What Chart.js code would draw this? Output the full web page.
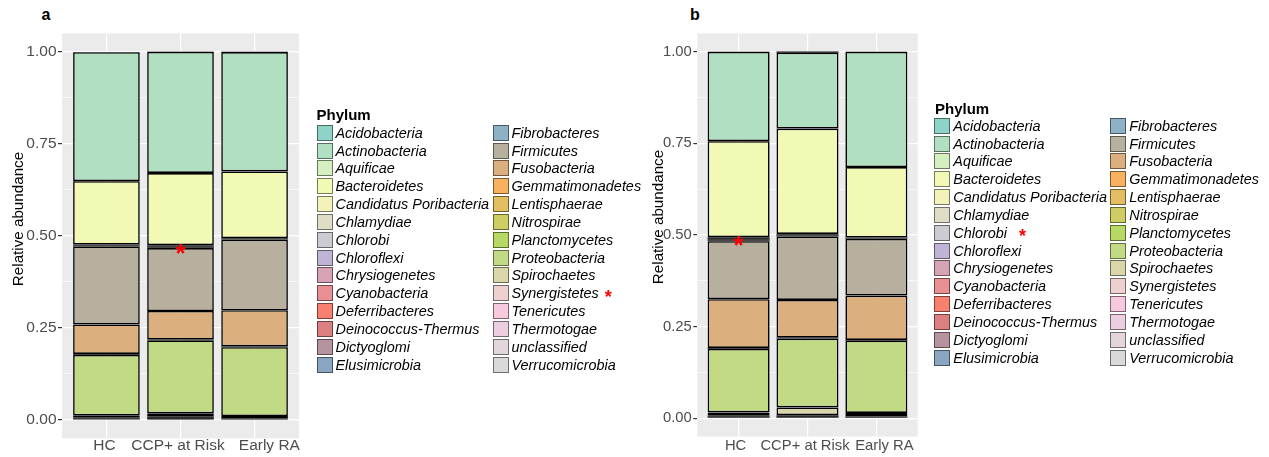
<!DOCTYPE html>
<html>
<head>
<meta charset="utf-8">
<script src="https://cdn.jsdelivr.net/npm/chart.js@4.4.1/dist/chart.umd.min.js"></script>
<style>
  body { margin: 0; background: #fff; width: 1269px; height: 457px; position: relative; overflow: hidden;
         font-family: "Liberation Sans", Arial, sans-serif; color: #000; }
  canvas { position: absolute; top: 0; }
  #chartA { left: 0; }
  #chartB { left: 640px; }
  .tag { position: absolute; font-weight: bold; font-size: 16px; line-height: 16px; }
  .legend-title { position: absolute; font-weight: bold; font-size: 15px; line-height: 18px; }
  .legend { position: absolute; display: grid; grid-auto-flow: column;
            grid-template-columns: 176px 176px; grid-template-rows: repeat(14, 17.85px); }
  .item { display: flex; align-items: center; font-style: italic; font-size: 14.4px; white-space: nowrap; }
  .key { width: 16px; height: 16px; box-sizing: border-box; border: 1px solid rgba(0,0,0,0.5);
         margin-right: 3px; flex: none; }
  .star { color: #ff0000; font-style: normal; font-weight: bold; font-size: 18px; position: relative; top: 4px; }
</style>
</head>
<body>
<div class="tag" style="left:41.5px; top:7px;">a</div>
<div class="tag" style="left:690px; top:7px;">b</div>
<canvas id="chartA" width="640" height="457"></canvas>
<canvas id="chartB" width="629" height="457"></canvas>
<div class="legend-title" style="left:316.5px; top:106px;">Phylum</div>
<div class="legend" id="legendA" style="left:316.5px; top:123.8px;"></div>
<div class="legend-title" style="left:935px; top:99.5px;">Phylum</div>
<div class="legend" id="legendB" style="left:934.3px; top:116.8px;"></div>

<script>
const groups = ['HC', 'CCP+ at Risk', 'Early RA'];

const phyla = [
  'Acidobacteria', 'Actinobacteria', 'Aquificae', 'Bacteroidetes', 'Candidatus Poribacteria',
  'Chlamydiae', 'Chlorobi', 'Chloroflexi', 'Chrysiogenetes', 'Cyanobacteria',
  'Deferribacteres', 'Deinococcus-Thermus', 'Dictyoglomi', 'Elusimicrobia',
  'Fibrobacteres', 'Firmicutes', 'Fusobacteria', 'Gemmatimonadetes', 'Lentisphaerae',
  'Nitrospirae', 'Planctomycetes', 'Proteobacteria', 'Spirochaetes', 'Synergistetes',
  'Tenericutes', 'Thermotogae', 'unclassified', 'Verrucomicrobia'
];

const phylumColors = [
  '#8ed3c8', '#b1dfc2', '#d4efc0', '#f2f9b4', '#f3f2bb',
  '#e0ddc6', '#cccad3', '#c0b4d6', '#d6a3b4', '#e78f93',
  '#f7806f', '#dc7f80', '#b6949f', '#8aa5c2',
  '#8fb1c6', '#b7b09f', '#dcb07e', '#f8b15f', '#e2bd62',
  '#cdcd63', '#b6d963', '#c3da85', '#d9d6aa', '#eed0d0',
  '#f7c9df', '#edcde0', '#e2d5dc', '#d9d9d9'
];

const yTicks = [0, 0.25, 0.5, 0.75, 1];

// panel a, relative abundance per group (same order as phyla)
const hcA = [0.001, 0.350, 0.0003, 0.172, 0.0005, 0.0005, 0.0008, 0.0005, 0.0002, 0.0008,
  0.0003, 0.0004, 0.0002, 0.0003, 0.0005, 0.212, 0.080, 0.0003, 0.0008, 0.0004,
  0.0012, 0.165, 0.006, 0.001, 0.0015, 0.0003, 0.0012, 0.0018];
const ccpA = [0.0008, 0.329, 0.0003, 0.196, 0.001, 0.001, 0.0012, 0.0008, 0.0004, 0.001,
  0.0004, 0.0005, 0.0003, 0.0004, 0.0007, 0.171, 0.077, 0.0004, 0.001, 0.0005,
  0.0011, 0.198, 0.009, 0.0015, 0.002, 0.0005, 0.0025, 0.0025];
const earlyA = [0.0006, 0.324, 0.0002, 0.181, 0.0005, 0.0004, 0.0006, 0.0004, 0.0002, 0.0006,
  0.0002, 0.0003, 0.0002, 0.0003, 0.0005, 0.192, 0.098, 0.0003, 0.0007, 0.0003,
  0.0009, 0.187, 0.006, 0.0007, 0.0012, 0.0003, 0.0011, 0.0015];

// panel b
const hcB = [0.0008, 0.243, 0.0003, 0.262, 0.0015, 0.0012, 0.0025, 0.001, 0.0005, 0.0015,
  0.0005, 0.0006, 0.0004, 0.0005, 0.0008, 0.158, 0.133, 0.0004, 0.0009, 0.0004,
  0.0013, 0.173, 0.009, 0.001, 0.0015, 0.0004, 0.0018, 0.0023];
const ccpB = [0.003, 0.207, 0.0004, 0.287, 0.001, 0.001, 0.0011, 0.0007, 0.0003, 0.001,
  0.0004, 0.0004, 0.0003, 0.0003, 0.0005, 0.173, 0.103, 0.0003, 0.0008, 0.0003,
  0.0011, 0.188, 0.021, 0.001, 0.0015, 0.0005, 0.003, 0.0025];
const earlyB = [0.0006, 0.314, 0.0003, 0.192, 0.0004, 0.0003, 0.0005, 0.0003, 0.0002, 0.0005,
  0.0002, 0.0003, 0.0002, 0.0002, 0.0004, 0.155, 0.121, 0.0003, 0.0006, 0.0002,
  0.0009, 0.197, 0.009, 0.0006, 0.001, 0.0003, 0.0017, 0.0021];

// significance marks: group number (1-based) and height on the bar
const starA = { group: 2, value: 0.471 };
const starB = { group: 1, value: 0.489 };


Chart.defaults.font.family = '"Liberation Sans", Arial, sans-serif';
Chart.defaults.color = '#4d4d4d';

const yGrid = [];
yTicks.forEach((v, i) => {
  yGrid.push(v);
  if (i < yTicks.length - 1) yGrid.push((v + yTicks[i + 1]) / 2);
});

const isMajor = (ctx) => ctx.tick && yTicks.includes(ctx.tick.value);

// slices thinner than the outline end up all black, as in ggplot
const thin = (ctx) => ctx.raw && ctx.raw.y < 0.004;

// grey panel background
const panelBg = {
  id: 'panelBg',
  beforeDraw(chart) {
    const { ctx, chartArea: a } = chart;
    ctx.save();
    ctx.fillStyle = '#ebebeb';
    ctx.fillRect(a.left, a.top, a.right - a.left, a.bottom - a.top);
    ctx.restore();
  }
};

// y axis title, placed like the figure
const yTitle = {
  id: 'yTitle',
  afterDraw(chart, args, opts) {
    const ctx = chart.ctx;
    ctx.save();
    ctx.translate(opts.x, opts.y);
    ctx.rotate(-Math.PI / 2);
    ctx.font = opts.size + 'px "Liberation Sans", Arial, sans-serif';
    ctx.fillStyle = '#000';
    ctx.textAlign = 'center';
    ctx.textBaseline = 'alphabetic';
    ctx.fillText('Relative abundance', 0, 0);
    ctx.restore();
  }
};

// red asterisk on a bar
const starMark = {
  id: 'starMark',
  afterDatasetsDraw(chart, args, opts) {
    const ctx = chart.ctx;
    const x = chart.scales.x.getPixelForValue(opts.group);
    const y = chart.scales.y.getPixelForValue(opts.value);
    ctx.save();
    ctx.font = 'bold 26px "Liberation Sans", Arial, sans-serif';
    ctx.fillStyle = '#ff0000';
    ctx.textAlign = 'center';
    ctx.textBaseline = 'alphabetic';
    ctx.fillText('*', x, y + 0.575 * 26);
    ctx.restore();
  }
};


function makeChart(id, series, star, p) {

  const datasets = phyla.map((name, i) => ({
    label: name,
    data: series.map((s, g) => ({ x: g + 1, y: s[i] })),
    backgroundColor: (ctx) => thin(ctx) ? '#000' : phylumColors[i],
    borderColor: '#000',
    borderWidth: (ctx) => thin(ctx) ? 0 : 1.6,
    borderSkipped: false,
    inflateAmount: 0,
    barPercentage: 0.9,
    categoryPercentage: 1
  })).reverse();   // first level sits on top, like ggplot

  return new Chart(document.getElementById(id), {
    type: 'bar',
    data: { datasets },
    plugins: [panelBg, yTitle, starMark],
    options: {
      responsive: false,
      animation: false,
      events: [],
      layout: { padding: { top: 33.4, right: p.right, bottom: 0, left: 0 } },
      plugins: {
        legend: { display: false },
        tooltip: { enabled: false },
        yTitle: { x: 23.3, y: p.titleY, size: 15.2 },
        starMark: star
      },
      scales: {
        x: {
          type: 'linear',
          stacked: true,
          min: 0.4,
          max: 3.6,
          offset: false,
          afterBuildTicks: (s) => { s.ticks = groups.map((g, i) => ({ value: i + 1 })); },
          afterFit: (s) => { s.height = 0; },
          grid: { offset: false, color: '#ffffff', lineWidth: 1.2, drawTicks: false },
          border: { display: false },
          ticks: { display: false }
        },
        // group names, set a little off the bar centres as in the figure
        xLab: {
          type: 'linear',
          position: 'bottom',
          min: 0.4,
          max: 3.6,
          offset: false,
          afterBuildTicks: (s) => { s.ticks = groups.map((g, i) => ({ value: i + 1 + p.labelShift[i] })); },
          afterFit: (s) => { s.height = 457 - 33.4 - p.plotH; },
          grid: { display: false, drawTicks: false },
          border: { display: false },
          ticks: {
            autoSkip: false,
            maxRotation: 0,
            padding: p.xPad,
            font: { size: p.font, lineHeight: 1 },
            callback: (v, i) => groups[i]
          }
        },
        y: {
          stacked: true,
          min: -0.05,
          max: 1.05,
          afterBuildTicks: (s) => { s.ticks = yGrid.map(v => ({ value: v })); },
          afterFit: (s) => { s.width = p.yW; },
          grid: {
            color: '#ffffff',
            lineWidth: (ctx) => isMajor(ctx) ? 1.2 : 0.6,
            tickColor: (ctx) => isMajor(ctx) ? '#333' : 'rgba(0,0,0,0)',
            tickLength: 4
          },
          border: { display: false },
          ticks: {
            autoSkip: false,
            padding: 1.5,
            font: { size: p.font },
            callback: (v) => yTicks.includes(v) ? v.toFixed(2) : ''
          }
        }
      }
    }
  });
}


function buildLegend(el, starName, starGap) {
  phyla.forEach((name, i) => {
    const item = document.createElement('div');
    item.className = 'item';
    item.innerHTML = '<span class="key" style="background:' + phylumColors[i] + '"></span><span>' + name + '</span>' +
      (name === starName ? '<span class="star" style="margin-left:' + starGap + 'px">*</span>' : '');
    el.appendChild(item);
  });
}

makeChart('chartA', [hcA, ccpA, earlyA], starA,
  { right: 341, yW: 62, plotH: 405, titleY: 219, font: 15.5, xPad: -0.85,
    labelShift: [-0.027, -0.034, 0.2] });
makeChart('chartB', [hcB, ccpB, earlyB], starB,
  { right: 351.3, yW: 57.3, plotH: 403.2, titleY: 217, font: 14.8, xPad: 2,
    labelShift: [-0.044, -0.036, 0.116] });

buildLegend(document.getElementById('legendA'), 'Synergistetes', 6);
buildLegend(document.getElementById('legendB'), 'Chlorobi', 12);
</script>
</body>
</html>
